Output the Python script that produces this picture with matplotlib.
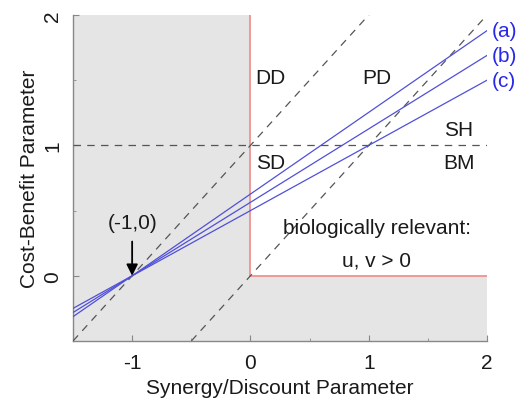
import matplotlib
matplotlib.use("Agg")
import matplotlib.pyplot as plt
import numpy as np

plt.rcParams['font.family'] = ['Liberation Sans', 'DejaVu Sans']
plt.rcParams['axes.unicode_minus'] = False

# data
x_range = [-1.5, 2.0]
y_range = [-0.5, 2.0]
pivot = (-1.0, 0.0)
line_names = ["(a)", "(b)", "(c)"]
line_end_values = [1.88, 1.69, 1.50]   # y at x = 2
diag_offsets = [1.0, 0.0]              # y = x + offset
region_labels = ["DD", "PD", "SH", "SD", "BM"]
region_x = [0.17, 1.07, 1.76, 0.17, 1.76]
region_y = [1.52, 1.52, 1.12, 0.87, 0.87]
x_ticks = [-1, 0, 1, 2]
y_ticks = [0, 1, 2]

fig = plt.figure(figsize=(5.17, 4.02), dpi=100)
ax = fig.add_axes([73/517, 1-342/402, (487-73)/517, (342-16)/402])
ax.set_xlim(*x_range)
ax.set_ylim(*y_range)

gray = '#e5e5e5'
ax.fill_between([x_range[0], 0], y_range[0], y_range[1], color=gray, lw=0, zorder=0)
ax.fill_between([0, x_range[1]], y_range[0], 0, color=gray, lw=0, zorder=0)

red = '#f08a8a'
ax.plot([0, 0], [0, y_range[1]], color=red, lw=1.2, zorder=2)
ax.plot([0, x_range[1]], [0, 0], color=red, lw=1.2, zorder=2)

dash_kw = dict(color='#555555', lw=0.9, dashes=(6, 5), zorder=3)
xs = np.array(x_range)
ax.plot(xs, [1, 1], **dash_kw)
for off in diag_offsets:
    ax.plot(xs, xs + off, **dash_kw)

blue = '#5050d8'
for name, yend in zip(line_names, line_end_values):
    slope = (yend - pivot[1]) / (x_range[1] - pivot[0])
    ys = pivot[1] + slope * (xs - pivot[0])
    ax.plot(xs, ys, color=blue, lw=0.9, zorder=4)
    ax.text(x_range[1] + 0.04, yend, name, color='#2828e8', fontsize=15,
            ha='left', va='center', clip_on=False)

for lab, lx, ly in zip(region_labels, region_x, region_y):
    ax.text(lx, ly, lab, fontsize=15, ha='center', va='center', color='#1a1a1a')

ax.text(1.07, 0.37, "biologically relevant:", fontsize=15, ha='center', va='center', color='#1a1a1a')
ax.text(1.07, 0.12, "u, v > 0", fontsize=15, ha='center', va='center', color='#1a1a1a')

ax.annotate("(-1,0)", xy=pivot, xytext=(-1.0, 0.41), fontsize=15, ha='center', va='center',
            color='#1a1a1a',
            arrowprops=dict(arrowstyle='-|>', color='black', lw=1.3, mutation_scale=17,
                            shrinkA=5, shrinkB=0))

for s in ['top', 'right']:
    ax.spines[s].set_visible(False)
for s in ['left', 'bottom']:
    ax.spines[s].set_color('#888888')
    ax.spines[s].set_linewidth(1.0)

ax.set_xticks(x_ticks)
ax.set_yticks(y_ticks)
ax.set_xticks(np.arange(-1.5, 2.01, 0.5), minor=True)
ax.set_yticks(np.arange(-0.5, 2.01, 0.5), minor=True)
ax.tick_params(which='both', direction='in', color='#888888', labelsize=15, labelcolor='#1a1a1a')
ax.tick_params(which='major', length=4)
ax.tick_params(which='minor', length=2)
ax.tick_params(axis='x', pad=9)
ax.tick_params(axis='y', pad=8)
for t in ax.get_yticklabels():
    t.set_rotation(90)
    t.set_va('center')

ax.set_xlabel("Synergy/Discount Parameter", fontsize=15, color='#1a1a1a', labelpad=4)
ax.set_ylabel("Cost-Benefit Parameter", fontsize=15, color='#1a1a1a', labelpad=3)

fig.savefig("out.png", dpi=100)
